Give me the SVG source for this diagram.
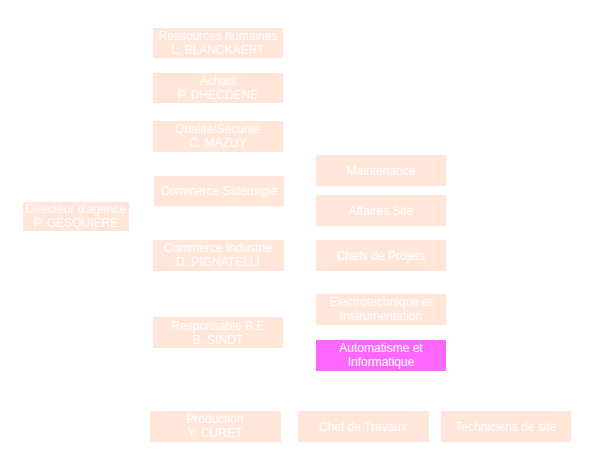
<svg xmlns="http://www.w3.org/2000/svg" width="599" height="451" viewBox="0 0 599 451">
<style>
.box{fill:#FFE6D9;}
.hl{fill:#FF66FF;}
text{font-family:"Liberation Sans",Arial,sans-serif;font-size:12px;fill:#FFFFFF;text-anchor:middle;}
</style>
<rect width="599" height="451" fill="#FFFFFF"/>
<g id="connectors"></g>
<g id="n-rh"><rect class="box" x="153" y="28" width="130" height="30"/><text x="218" y="40">Ressources humaines</text><text x="218" y="54">L. BLANCKAERT</text></g>
<g id="n-achats"><rect class="box" x="153" y="73" width="130" height="30"/><text x="218" y="85">Achats</text><text x="218" y="99">P. DHECDENE</text></g>
<g id="n-qualite"><rect class="box" x="153" y="121" width="130" height="31"/><text x="218" y="133">Qualité/Sécurité</text><text x="218" y="147">C. MAZUY</text></g>
<g id="n-sid"><rect class="box" x="154" y="176" width="130" height="30"/><text x="219" y="195">Commerce Sidérurgie</text></g>
<g id="n-ind"><rect class="box" x="153" y="240" width="131" height="31"/><text x="218" y="252">Commerce Industrie</text><text x="218" y="266">D. PIGNATELLI</text></g>
<g id="n-dir"><rect class="box" x="23" y="202" width="106" height="29"/><text x="76" y="213">Directeur d'agence</text><text x="76" y="227">P. GESQUIERE</text></g>
<g id="n-maint"><rect class="box" x="316" y="155" width="130" height="31"/><text x="381" y="175">Maintenance</text></g>
<g id="n-aff"><rect class="box" x="316" y="195" width="130" height="31"/><text x="381" y="215">Affaires Site</text></g>
<g id="n-chefs"><rect class="box" x="316" y="240" width="130" height="31"/><text x="381" y="260">Chefs de Projets</text></g>
<g id="n-be"><rect class="box" x="153" y="317" width="130" height="31"/><text x="218" y="330">Responsable B.E</text><text x="218" y="344">B. SINDT</text></g>
<g id="n-elec"><rect class="box" x="316" y="294" width="130" height="31"/><text x="381" y="306">Electrotechnique et</text><text x="381" y="320">Instrumentation</text></g>
<g id="n-auto"><rect class="hl" x="316" y="340" width="130" height="31"/><text x="381" y="352">Automatisme et</text><text x="381" y="366">Informatique</text></g>
<g id="n-prod"><rect class="box" x="150" y="411" width="131" height="31"/><text x="215" y="423">Production</text><text x="215" y="437">Y. CURET</text></g>
<g id="n-travaux"><rect class="box" x="298" y="411" width="131" height="31"/><text x="363" y="431">Chef de Travaux</text></g>
<g id="n-tech"><rect class="box" x="441" y="411" width="130" height="31"/><text x="506" y="431">Techniciens de site</text></g>
</svg>
